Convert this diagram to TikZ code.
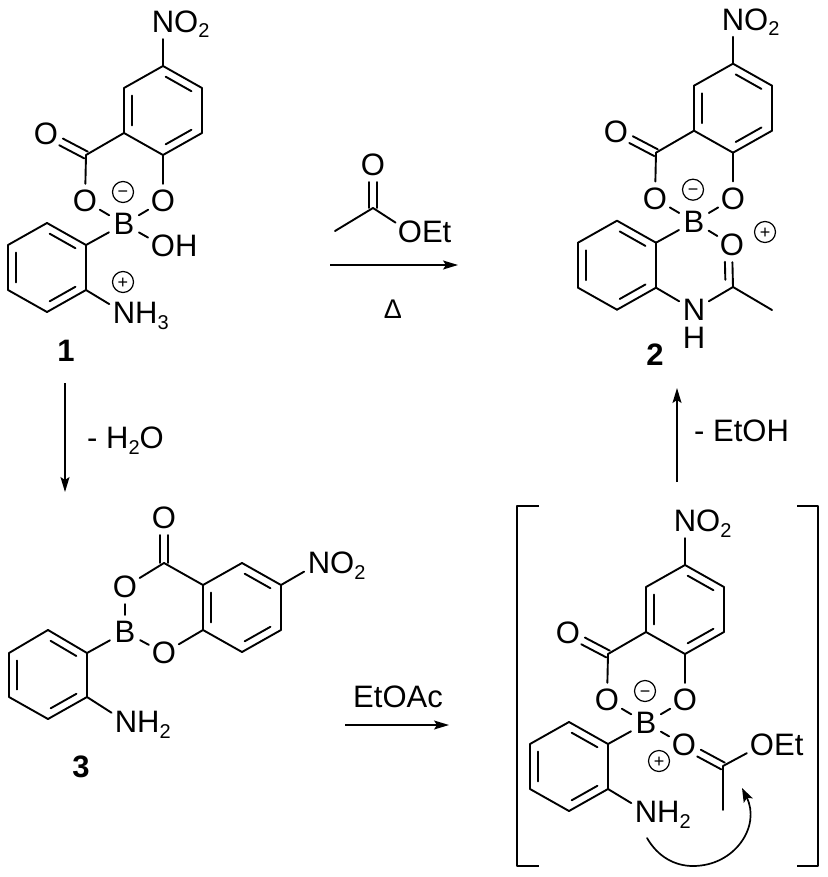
\documentclass[tikz,border=0pt]{standalone}
\usepackage{fontspec}
\setmainfont{Liberation Sans}
\usetikzlibrary{calc,arrows.meta}

\newcommand{\atomfont}{\fontsize{31}{33}\selectfont}
\newcommand{\atomsub}[1]{\raisebox{-5.5pt}{\fontsize{20}{21}\selectfont #1}}
% inner line of a ring double bond, a and b taken clockwise
\newcommand{\ringbond}[2]{\draw[bond] ($(#1)!.17!(#2)!8pt!-90:(#2)$) -- ($(#2)!.17!(#1)!8pt!90:(#1)$);}
% carbonyl, both lines beside the axis
\newcommand{\twinbond}[2]{
	\draw[bond,shorten >=17pt] ($(#1)!3.8pt!90:(#2)$) -- ($(#2)!3.8pt!-90:(#1)$);
	\draw[bond,shorten >=17pt] ($(#1)!3.8pt!-90:(#2)$) -- ($(#2)!3.8pt!90:(#1)$);}

\tikzset{
	bond/.style={line width=1.9pt,line cap=round,line join=round},
	rxn/.style={line width=1.5pt,-{Stealth[length=15pt,width=9pt,inset=3pt]}},
	atom/.style={circle,inner sep=0pt,minimum size=34pt,text height=21pt,text depth=0pt,font=\atomfont},
	txt/.style={inner sep=0pt,text height=21pt,text depth=0pt,font=\atomfont},
	cmpd/.style={inner sep=0pt,text height=21pt,text depth=0pt,font=\atomfont\bfseries},
	charge/.style={circle,draw,line width=1.2pt,inner sep=0pt,minimum size=21pt,text height=12pt,text depth=0pt,font=\fontsize{18}{18}\selectfont},
	% salicylate ring, boron and the aniline ring
	corering/.pic={
		\foreach \X/\Y [count=\Z] in {163/66, 202/88, 202/133, 163/155, 124/133, 124/88}
		{\coordinate (c\Z) at (\X,\Y);}
		\foreach \X/\Y [count=\Z] in {86/245, 47/223, 8/245, 8/290, 47/312, 86/290}
		{\coordinate (d\Z) at (\X,\Y);}
		\coordinate (cc) at (86,155);
		\node[atom] (no) at (163,22) {N\rlap{O\atomsub{2}}};
		\node[atom] (oc) at (46,134) {O};
		\node[atom] (ol) at (85,201) {O};
		\node[atom] (or) at (163,201) {O};
		\node[atom] (b) at (124,224) {B};
		\node[charge] (neg) at (123,192) {−};
		\foreach \A/\B in {c1/c2,c2/c3,c3/c4,c4/c5,c5/c6,c6/c1,d1/d2,d2/d3,d3/d4,d4/d5,d5/d6,d6/d1,
			c1/no,c5/cc,cc/ol,c4/or,ol/b,or/b,d1/b}
		{\draw[bond] (\A) -- (\B);}
		\ringbond{c1}{c2}
		\ringbond{c3}{c4}
		\ringbond{c5}{c6}
		\ringbond{d2}{d1}
		\ringbond{d4}{d3}
		\ringbond{d6}{d5}
		\twinbond{cc}{oc}
	}
}

\begin{document}
\begin{tikzpicture}[x=1pt,y=-1pt]
	\useasboundingbox (0,0) rectangle (827,877);

	% compound 1
	\pic (p) at (0,0) {corering};
	\node[atom] (poh) at (163,246) {O\rlap{H}};
	\node[atom] (pn) at (124,313) {N\rlap{H\atomsub{3}}};
	\node[charge] (ppos) at (123,282) {+};
	\node[cmpd] (lab1) at (66,351) {1};
	\draw[bond] (pb) -- (poh);
	\draw[bond] (pd6) -- (pn);

	% reagent on top
	\coordinate (ea1) at (335,231);
	\coordinate (ea2) at (373,208);
	\node[atom] (eao) at (373,165) {O};
	\node[atom] (eaoe) at (410,232) {O\rlap{Et}};
	\draw[bond] (ea1) -- (ea2) -- (eaoe);
	\twinbond{ea2}{eao}
	\coordinate (r1s) at (330,265);
	\coordinate (r1e) at (458,265);
	\draw[rxn] (r1s) -- (r1e);
	\node[txt,font=\fontsize{27}{28}\selectfont,text height=18pt] (heat) at (393,309) {Δ};

	% compound 2
	\pic (q) at (570,-2.3) {corering};
	\node[atom] (qo) at (732,245) {O};
	\coordinate (qc) at (733,287);
	\coordinate (qme) at (772,310);
	\node[atom] (qn) at (694,310) {N};
	\node[atom] (qh) at (694,338) {H};
	\node[charge] (qpos) at (765,232) {+};
	\node[cmpd] (lab2) at (655,355) {2};
	\draw[bond] (qb) -- (qo);
	\draw[bond] (qd6) -- (qn) -- (qc) -- (qme);
	\draw[bond] (qc) -- (qo);
	\draw[bond] ($(qc)!.17!(qo)+(-7.5,0)$) -- ($(qc)!.6!(qo)+(-7.5,0)$);

	% water loss
	\coordinate (r2s) at (65,383);
	\coordinate (r2e) at (65,492);
	\draw[rxn] (r2s) -- (r2e);
	\node[txt,anchor=west] (lab3) at (87,438) {- H\atomsub{2}O};

	% compound 3
	\foreach \X/\Y [count=\Z] in {203/585, 242/563, 281/585, 281/630, 242/652, 203/630}
	{\coordinate (e\Z) at (\X,\Y);}
	\foreach \X/\Y [count=\Z] in {87/653, 48/630, 9/653, 9/697, 48/719, 87/697}
	{\coordinate (f\Z) at (\X,\Y);}
	\coordinate (rc) at (164,563);
	\node[atom] (ro) at (164,518) {O};
	\node[atom] (rol) at (125,587) {O};
	\node[atom] (rb) at (125,632) {B};
	\node[atom] (ror) at (164,653) {O};
	\node[atom] (rno) at (319,563) {N\rlap{O\atomsub{2}}};
	\node[atom] (rn) at (126,722) {N\rlap{H\atomsub{2}}};
	\node[cmpd] (lab4) at (81,767) {3};
	\foreach \A/\B in {e1/e2,e2/e3,e3/e4,e4/e5,e5/e6,e6/e1,f1/f2,f2/f3,f3/f4,f4/f5,f5/f6,f6/f1,
		e3/rno,f6/rn,f1/rb,rb/rol,rb/ror,rol/rc,rc/e1,ror/e6}
	{\draw[bond] (\A) -- (\B);}
	\ringbond{e2}{e3}
	\ringbond{e4}{e5}
	\ringbond{e6}{e1}
	\ringbond{f2}{f1}
	\ringbond{f4}{f3}
	\ringbond{f6}{f5}
	\twinbond{rc}{ro}

	% to the intermediate
	\coordinate (r3s) at (345,725);
	\coordinate (r3e) at (449,725);
	\draw[rxn] (r3s) -- (r3e);
	\node[txt] (lab5) at (398,697) {EtOAc};

	% intermediate in brackets
	\pic (s) at (522,499) {corering};
	\node[atom] (so) at (684,745) {O};
	\coordinate (sc) at (723,766);
	\coordinate (sme) at (723,810);
	\node[atom] (soe) at (762,745) {O\rlap{Et}};
	\node[atom] (sn) at (646,812) {N\rlap{H\atomsub{2}}};
	\node[charge] (spos) at (659,761) {+};
	\draw[bond] (sb) -- (so);
	\draw[bond] (sme) -- (sc) -- (soe);
	\draw[bond] (sd6) -- (sn);
	\twinbond{sc}{so}
	\coordinate (s1) at (647,838);
	\coordinate (s2) at (693,866);
	\coordinate (s3) at (742,788);
	\draw[bond,line width=1.7pt,-{Stealth[length=14pt,width=10pt,inset=3pt]}]
		(s1) .. controls (658,857) and (675,866) .. (s2) .. controls (735,866) and (761,826) .. (s3);
	\foreach \X/\Y [count=\Z] in {539/506, 517/506, 517/866, 539/866}
	{\coordinate (bl\Z) at (\X,\Y);}
	\foreach \X/\Y [count=\Z] in {797/506, 818/506, 818/866, 797/866}
	{\coordinate (br\Z) at (\X,\Y);}
	\draw[bond,line cap=butt] (bl1) -- (bl2) -- (bl3) -- (bl4);
	\draw[bond,line cap=butt] (br1) -- (br2) -- (br3) -- (br4);

	% ethanol loss
	\coordinate (r4s) at (677,482);
	\coordinate (r4e) at (677,388);
	\draw[rxn] (r4s) -- (r4e);
	\node[txt,anchor=west] (lab6) at (694,431) {- EtOH};
\end{tikzpicture}
\end{document}
